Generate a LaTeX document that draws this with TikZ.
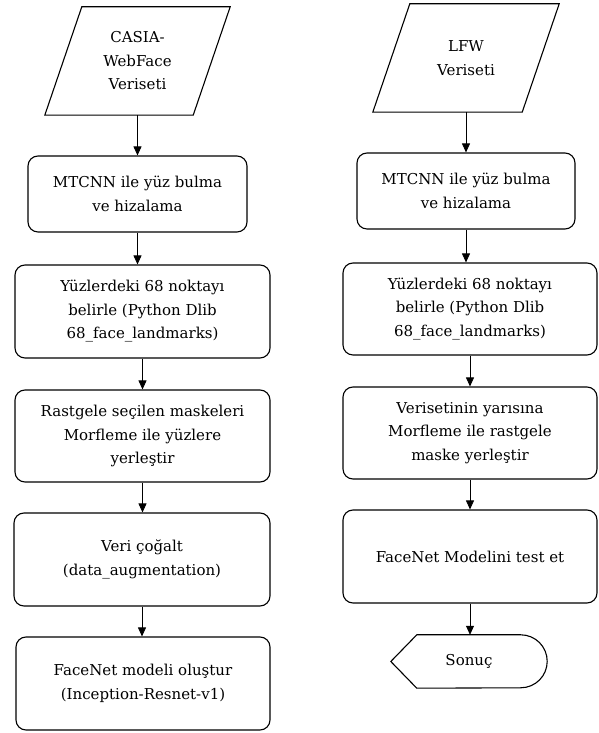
\documentclass[tikz,border=0pt]{standalone}
\usepackage{fontspec}
\setmainfont{DejaVu Serif}
\usetikzlibrary{positioning,arrows.meta,calc}

\begin{document}
\begin{tikzpicture}[x=1pt,y=1pt,
    yazi/.style={font=\fontsize{15}{23.5}\selectfont,align=center},
    kutu/.style={yazi,draw,rounded corners=10pt,line width=1.1pt,inner sep=2pt},
    veri/.style={yazi,minimum height=108pt,minimum width=185pt},
    cizgi/.style={line width=1.1pt},
    ok/.style={-{Triangle[length=9pt,width=8pt]},line width=0.8pt}]
  \useasboundingbox (0,0) rectangle (598,733);
  % sol sutun
  \node[veri] (casia) at (137.5,672) {CASIA-\\WebFace\\Veriseti};
  \draw[cizgi] (casia.south west) -- ($(casia.north west)+(37,0)$) -- (casia.north east) -- ($(casia.south east)+(-37,0)$) -- cycle;
  \node[kutu,minimum width=219pt,minimum height=76pt] (lbul) at (137.5,539) {MTCNN ile yüz bulma\\ve hizalama};
  \node[kutu,minimum width=255pt,minimum height=93pt] (lnokta) at (142.5,421.5) {Yüzlerdeki 68 noktayı\\belirle (Python Dlib\\68\_face\_landmarks)};
  \node[kutu,minimum width=255pt,minimum height=92pt] (lmaske) at (142.5,297) {Rastgele seçilen maskeleri\\Morfleme ile yüzlere\\yerleştir};
  \node[kutu,minimum width=256pt,minimum height=93pt] (lcogalt) at (142,173.5) {Veri çoğalt\\(data\_augmentation)};
  \node[kutu,minimum width=254pt,minimum height=93pt] (lmodel) at (143,49.5) {FaceNet modeli oluştur\\(Inception-Resnet-v1)};
  % sag sutun
  \node[veri,minimum width=186pt] (lfw) at (466,675) {LFW\\Veriseti};
  \draw[cizgi] (lfw.south west) -- ($(lfw.north west)+(37,0)$) -- (lfw.north east) -- ($(lfw.south east)+(-37,0)$) -- cycle;
  \node[kutu,minimum width=218pt,minimum height=76pt] (rbul) at (466,542) {MTCNN ile yüz bulma\\ve hizalama};
  \node[kutu,minimum width=254pt,minimum height=92pt] (rnokta) at (470,424) {Yüzlerdeki 68 noktayı\\belirle (Python Dlib\\68\_face\_landmarks)};
  \node[kutu,minimum width=254pt,minimum height=92pt] (rmaske) at (470,300) {Verisetinin yarısına\\Morfleme ile rastgele\\maske yerleştir};
  \node[kutu,minimum width=254pt,minimum height=93pt] (rtest) at (470,176.5) {FaceNet Modelini test et};
  \node[yazi,minimum width=156pt,minimum height=53pt] (sonuc) at (469,71.5) {Sonuç};
  \draw[cizgi] (sonuc.west) -- ($(sonuc.north west)+(26,0)$) -- ($(sonuc.north east)+(-26.5,0)$)
    arc[start angle=90,end angle=-90,radius=26.5] -- ($(sonuc.south west)+(26,0)$) -- cycle;
  % oklar
  \draw[ok] (casia.south) -- (casia.south |- lbul.north);
  \draw[ok] (lbul.south) -- (lbul.south |- lnokta.north);
  \draw[ok] (lnokta.south) -- (lmaske.north);
  \draw[ok] (lmaske.south) -- (lmaske.south |- lcogalt.north);
  \draw[ok] (lcogalt.south) -- (lcogalt.south |- lmodel.north);
  \draw[ok] (lfw.south) -- (lfw.south |- rbul.north);
  \draw[ok] (rbul.south) -- (rbul.south |- rnokta.north);
  \draw[ok] (rnokta.south) -- (rmaske.north);
  \draw[ok] (rmaske.south) -- (rtest.north);
  \draw[ok] (rtest.south) -- (rtest.south |- sonuc.north);
\end{tikzpicture}
\end{document}
